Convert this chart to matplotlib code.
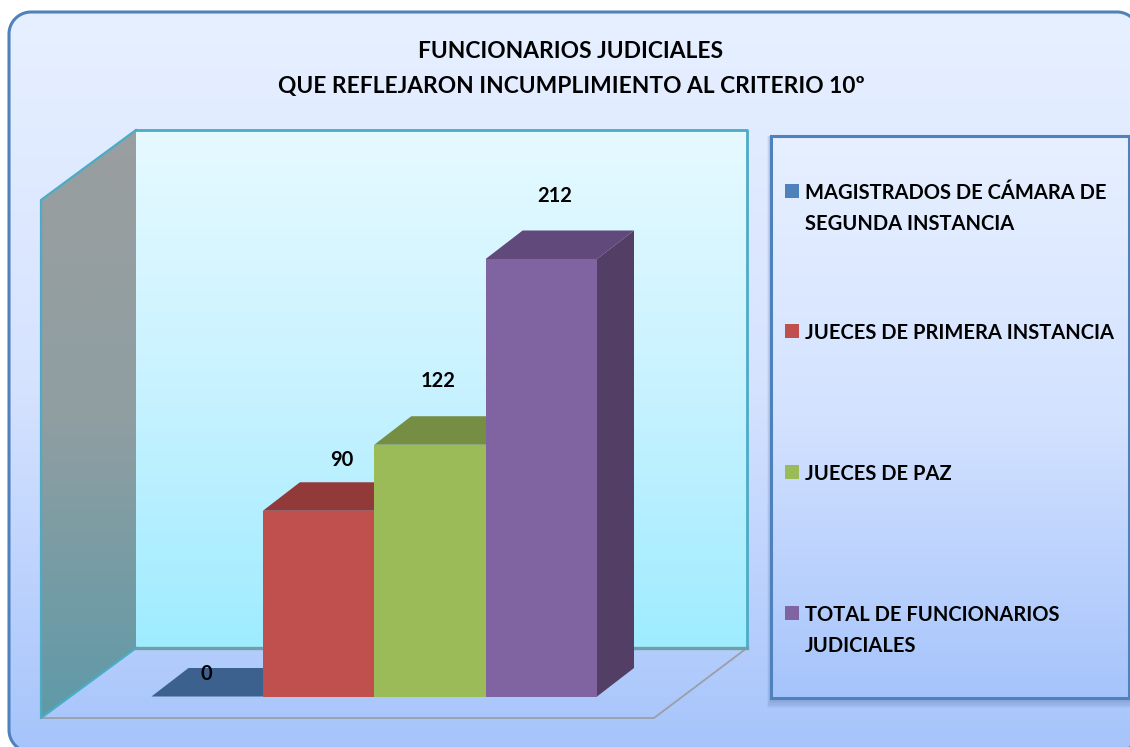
import numpy as np
import matplotlib
matplotlib.use("Agg")
import matplotlib.pyplot as plt
from matplotlib.patches import Polygon, Rectangle
from matplotlib.colors import LinearSegmentedColormap

categories = [
    "MAGISTRADOS DE CÁMARA DE\nSEGUNDA INSTANCIA",
    "JUECES DE PRIMERA INSTANCIA",
    "JUECES DE PAZ",
    "TOTAL DE FUNCIONARIOS\nJUDICIALES",
]
values = [0, 90, 122, 212]

title_lines = [
    "FUNCIONARIOS JUDICIALES",
    "QUE REFLEJARON INCUMPLIMIENTO AL CRITERIO 10º",
]

front_colors = ["#4F81BD", "#C0504D", "#9BBB59", "#8064A2"]
top_colors = ["#3C618E", "#92393A", "#768E43", "#61497B"]
side_colors = ["#355579", "#7E3532", "#66793A", "#533E66"]

W = 1130
H = 747
FONT = "Lato"

plt.rcParams["font.family"] = [FONT, "DejaVu Sans"]

fig = plt.figure(figsize=(W / 100, H / 100), dpi=100)

# whole figure in image pixels, y going down
bg = fig.add_axes([0, 0, 1, 1], zorder=0)
bg.set_xlim(0, W)
bg.set_ylim(H, 0)
bg.axis("off")


def gradient(colors, extent, clip, zorder):
    cmap = LinearSegmentedColormap.from_list("g", colors)
    g = np.linspace(0, 1, 256).reshape(-1, 1)
    im = bg.imshow(g, cmap=cmap, extent=extent, aspect="auto", zorder=zorder, interpolation="bilinear")
    im.set_clip_path(clip)
    return im


def rounded_outline(x0, y0, x1, y1, r):
    # plain segments, the renderer bends bezier corners that leave the canvas
    t = np.linspace(0, np.pi / 2, 24)
    pts = []
    pts += list(zip(x0 + r - r * np.cos(t), y0 + r - r * np.sin(t)))
    pts += list(zip(x1 - r + r * np.sin(t), y0 + r - r * np.cos(t)))
    pts += list(zip(x1 - r + r * np.cos(t), y1 - r + r * np.sin(t)))
    pts += list(zip(x0 + r - r * np.sin(t), y1 - r + r * np.cos(t)))
    return pts


###################################################
# Chart area
###################################################
frame = Polygon(
    rounded_outline(9, 12, 1139, 752, 22), closed=True,
    facecolor="none", edgecolor="#4F81BD", linewidth=2.2, zorder=5,
)
bg.add_patch(frame)
gradient(["#E7F0FF", "#D6E3FF", "#A6C4FB"], (9, 1139, 752, 12), frame, 1)

###################################################
# Walls and floor
###################################################
bg.plot([41, 654, 747], [718, 718, 648], color="#9A9FA8", linewidth=1.3, zorder=3)

wall_pts = [(41, 200), (136, 130), (136, 648), (41, 718)]
wall = Polygon(wall_pts, closed=True, facecolor="none", edgecolor="none", zorder=2)
bg.add_patch(wall)
gradient(["#9A9EA0", "#8F9EA2", "#5F9AA8"], (41, 136, 718, 130), wall, 2)
bg.plot([136, 41, 41, 136], [130, 200, 718, 648], color="#4BACC6", linewidth=1.6, zorder=3)

back = Rectangle((136, 130), 611, 518, facecolor="none", edgecolor="none")
bg.add_patch(back)
gradient(["#E6FAFF", "#C8F2FF", "#9FECFF"], (136, 747, 648, 130), back, 2)
bg.plot([136, 747, 747], [130, 130, 648], color="#4BACC6", linewidth=2, zorder=3)
bg.plot([136, 747], [648, 648], color="#6F9FA8", linewidth=2.4, zorder=3)

###################################################
# Bars
###################################################
left, right, base, top = 151.5, 597, 696.5, 259
ax = fig.add_axes(
    [left / W, 1 - base / H, (right - left) / W, (base - top) / H],
    zorder=2,
)
ax.patch.set_alpha(0)
ax.axis("off")
ax.set_xlim(-0.5, len(values) - 0.5)
ax.set_ylim(0, max(values))

DX, DY = 37, -28.5
to_px = ax.transData + bg.transData.inverted()

for i, v in enumerate(values):
    (x0, y0), (x1, y1) = to_px.transform([(i - 0.5, 0), (i + 0.5, v)])
    order = 10 + 3 * i
    ax.bar(i, v, width=1, color=front_colors[i], linewidth=0, zorder=order + 2)
    top_face = Polygon(
        [(x0, y1), (x1, y1), (x1 + DX, y1 + DY), (x0 + DX, y1 + DY)],
        closed=True, facecolor=top_colors[i], edgecolor="none",
        transform=bg.transData, zorder=order, clip_on=False,
    )
    ax.add_patch(top_face)
    if v > 0:
        side_face = Polygon(
            [(x1, y0), (x1, y1), (x1 + DX, y1 + DY), (x1 + DX, y0 + DY)],
            closed=True, facecolor=side_colors[i], edgecolor="none",
            transform=bg.transData, zorder=order + 1, clip_on=False,
        )
        ax.add_patch(side_face)

# value labels sit behind and above each bar
label_offsets = [(-1, 23), (23, 51), (8, 64), (13, 63)]
for i, v in enumerate(values):
    ax.annotate(
        str(v),
        xy=(i, v),
        xytext=label_offsets[i],
        textcoords="offset pixels",
        ha="center",
        va="center",
        fontsize=14.5,
        fontweight="bold",
        color="black",
        zorder=40,
        annotation_clip=False,
    )

###################################################
# Title
###################################################
for line, y in zip(title_lines, [52, 87]):
    bg.text(571, y, line, ha="center", va="center", fontsize=16.4, fontweight="bold", color="black", zorder=6)

###################################################
# Legend
###################################################
for k in range(1, 9):
    bg.add_patch(Rectangle(
        (771 - k * 0.5, 136), 357.5 + k, 562 + k * 1.3,
        facecolor="#5F7BAE", alpha=0.07, edgecolor="none", zorder=3,
    ))
legend_box = Rectangle((771, 136), 357.5, 562, facecolor="none", edgecolor="#4F81BD", linewidth=2.2, zorder=5)
bg.add_patch(legend_box)
legend_clip = Rectangle((771, 136), 357.5, 562, facecolor="none", edgecolor="none")
bg.add_patch(legend_clip)
gradient(["#E7F0FF", "#D3E2FF", "#A6C4FB"], (771, 1129, 698, 136), legend_clip, 4)

legend_y = [191, 331, 472, 613]
for name, color, y in zip(categories, front_colors, legend_y):
    bg.add_patch(Rectangle((785, y - 7), 14, 14, facecolor=color, edgecolor="none", zorder=6))
    bg.text(
        805, y - 8, name, ha="left", va="top", fontsize=14.5, fontweight="bold",
        linespacing=1.67, color="black", zorder=6,
    )

bg.set_xlim(0, W)
bg.set_ylim(H, 0)

fig.savefig("out.png", dpi=100, facecolor="white")
plt.close(fig)
